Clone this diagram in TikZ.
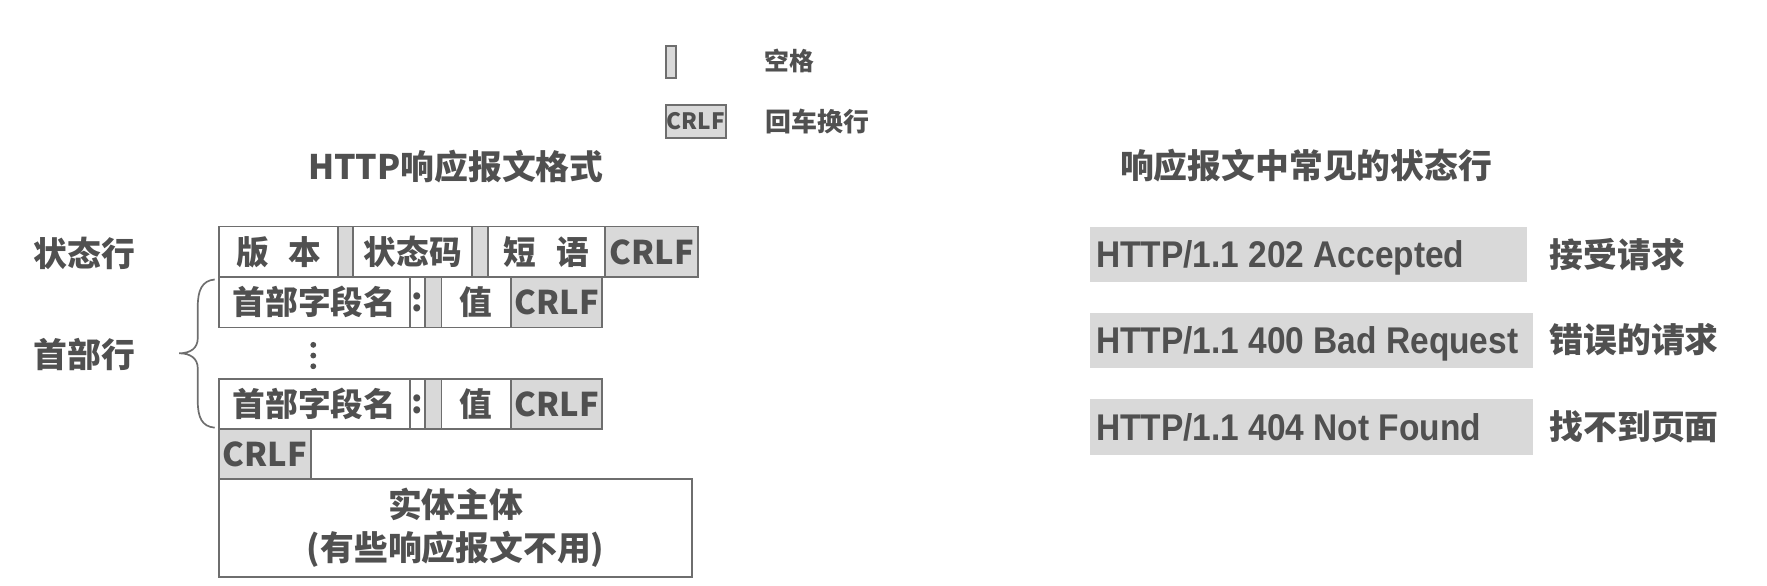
\documentclass[tikz,border=0pt]{standalone}
\usepackage{fontspec}
\setmainfont{Noto Sans CJK SC}
\newfontfamily\statfont{Liberation Sans Bold}[FakeStretch=0.9]

\definecolor{txtgray}{HTML}{505050}
\definecolor{linegray}{HTML}{6E6E6E}
\definecolor{cellgray}{HTML}{D9D9D9}

\tikzset{
  cell/.style={draw=linegray, line width=1.6pt, fill=white, anchor=north west,
    inner sep=0pt, outer sep=0pt, minimum height=44.6pt, text=txtgray,
    font=\bfseries\fontsize{29}{29}\selectfont},
  gapcell/.style={cell, fill=cellgray},
  crlfcell/.style={cell, fill=cellgray},
  lbl/.style={inner sep=0pt, text=txtgray, font=\bfseries\fontsize{30}{30}\selectfont},
  statbar/.style={fill=cellgray, anchor=north west, inner sep=0pt, outer sep=0pt},
  stattext/.style={anchor=west, inner sep=0pt, text=txtgray, text height=23.6pt, text depth=0pt,
    font=\statfont\fontsize{33}{33}\selectfont},
}

\begin{document}
\begin{tikzpicture}[x=1pt, y=-1pt]
	\useasboundingbox (0,0) rectangle (1568,520);
	
	% Legend
	\node[gapcell, minimum width=9pt, minimum height=29pt] (spkey) at (591,40.5) {};
	\node[lbl, anchor=west, font=\bfseries\fontsize{22}{22}\selectfont] (spname) at (678,54) {空格};
	\node[crlfcell, minimum width=53pt, minimum height=29.5pt,
	  font=\bfseries\fontsize{20}{20}\selectfont] (crlfkey) at (591,93) {CRLF};
	\node[lbl, anchor=west, font=\bfseries\fontsize{23}{23}\selectfont] (crlfname) at (679,108) {回车换行};
	
	% Titles
	\node[lbl] (lefttitle) at (404.5,148) {HTTP响应报文格式};
	\node[lbl] (righttitle) at (1159,147) {响应报文中常见的状态行};
	
	% Status line
	\node[cell, minimum width=105.4pt, minimum height=45pt] (ver) at (194.6,201) {版\hspace{0.6em}本};
	\node[gapcell, minimum width=13.5pt, minimum height=45pt] (sp1) at (ver.north east) {};
	\node[cell, minimum width=105.5pt, minimum height=45pt] (code) at (sp1.north east) {状态码};
	\node[gapcell, minimum width=13.7pt, minimum height=45pt] (sp2) at (code.north east) {};
	\node[cell, minimum width=104.3pt, minimum height=45pt] (phrase) at (sp2.north east) {短\hspace{0.6em}语};
	\node[crlfcell, minimum width=82.6pt, minimum height=45pt] (crlfa) at (phrase.north east) {CRLF};
	\node[lbl] (statuslbl) at (75,225) {状态行};
	
	% Header lines
	\foreach \row/\y in {one/246, two/336.3} {
		\node[cell, minimum width=169.1pt] (name\row) at (194.6,\y) {首部字段名};
		\node[cell, minimum width=13.3pt] (colon\row) at (name\row.north east) {:};
		\node[gapcell, minimum width=14.7pt] (sp\row) at (colon\row.north east) {};
		\node[cell, minimum width=61.7pt] (val\row) at (sp\row.north east) {值};
		\node[crlfcell, minimum width=81.1pt] (crlf\row) at (val\row.north east) {CRLF};
	}
	\foreach \y in {306,315.5,325}
		\fill[txtgray] (278,\y) circle (2.6pt);
	
	% Brace
	\draw[linegray, line width=1.5pt] (190.5,248) .. controls (179,249) and (175.5,258) .. (175.5,272)
	  -- (175.5,300) .. controls (175.5,309) and (169,313.5) .. (159,313.5)
	  .. controls (169,313.5) and (175.5,318) .. (175.5,327)
	  -- (175.5,356) .. controls (175.5,370) and (179,378.5) .. (190.5,379.5);
	\node[lbl] (headlbl) at (75,315) {首部行};
	
	% Empty line and body
	\node[crlfcell, minimum width=81.1pt, minimum height=44.4pt] (crlfend) at (194.6,380.9) {CRLF};
	\node[cell, minimum width=419.4pt, minimum height=86.4pt, align=center,
	  font=\bfseries\fontsize{30}{38.4}\selectfont] (body) at (crlfend.south west) {实体主体\\(有些响应报文不用)};
	
	% Common status lines
	\node[statbar, minimum width=388pt, minimum height=49pt] (accepted) at (967,201) {};
	\node[statbar, minimum width=393pt, minimum height=49.4pt] (badreq) at (967,277.4) {};
	\node[statbar, minimum width=393pt, minimum height=49.7pt] (notfound) at (967,354) {};
	\node[stattext] (acceptedline) at ([xshift=5.5pt]accepted.west) {HTTP/1.1 202 Accepted};
	\node[stattext] (badreqline) at ([xshift=5.5pt]badreq.west) {HTTP/1.1 400 Bad Request};
	\node[stattext] (notfoundline) at ([xshift=5.5pt]notfound.west) {HTTP/1.1 404 Not Found};
	\node[lbl, anchor=west] (acceptedtxt) at (1375,225.5) {接受请求};
	\node[lbl, anchor=west] (badreqtxt) at (1375,301.5) {错误的请求};
	\node[lbl, anchor=west] (notfoundtxt) at (1375,378.8) {找不到页面};
\end{tikzpicture}
\end{document}
